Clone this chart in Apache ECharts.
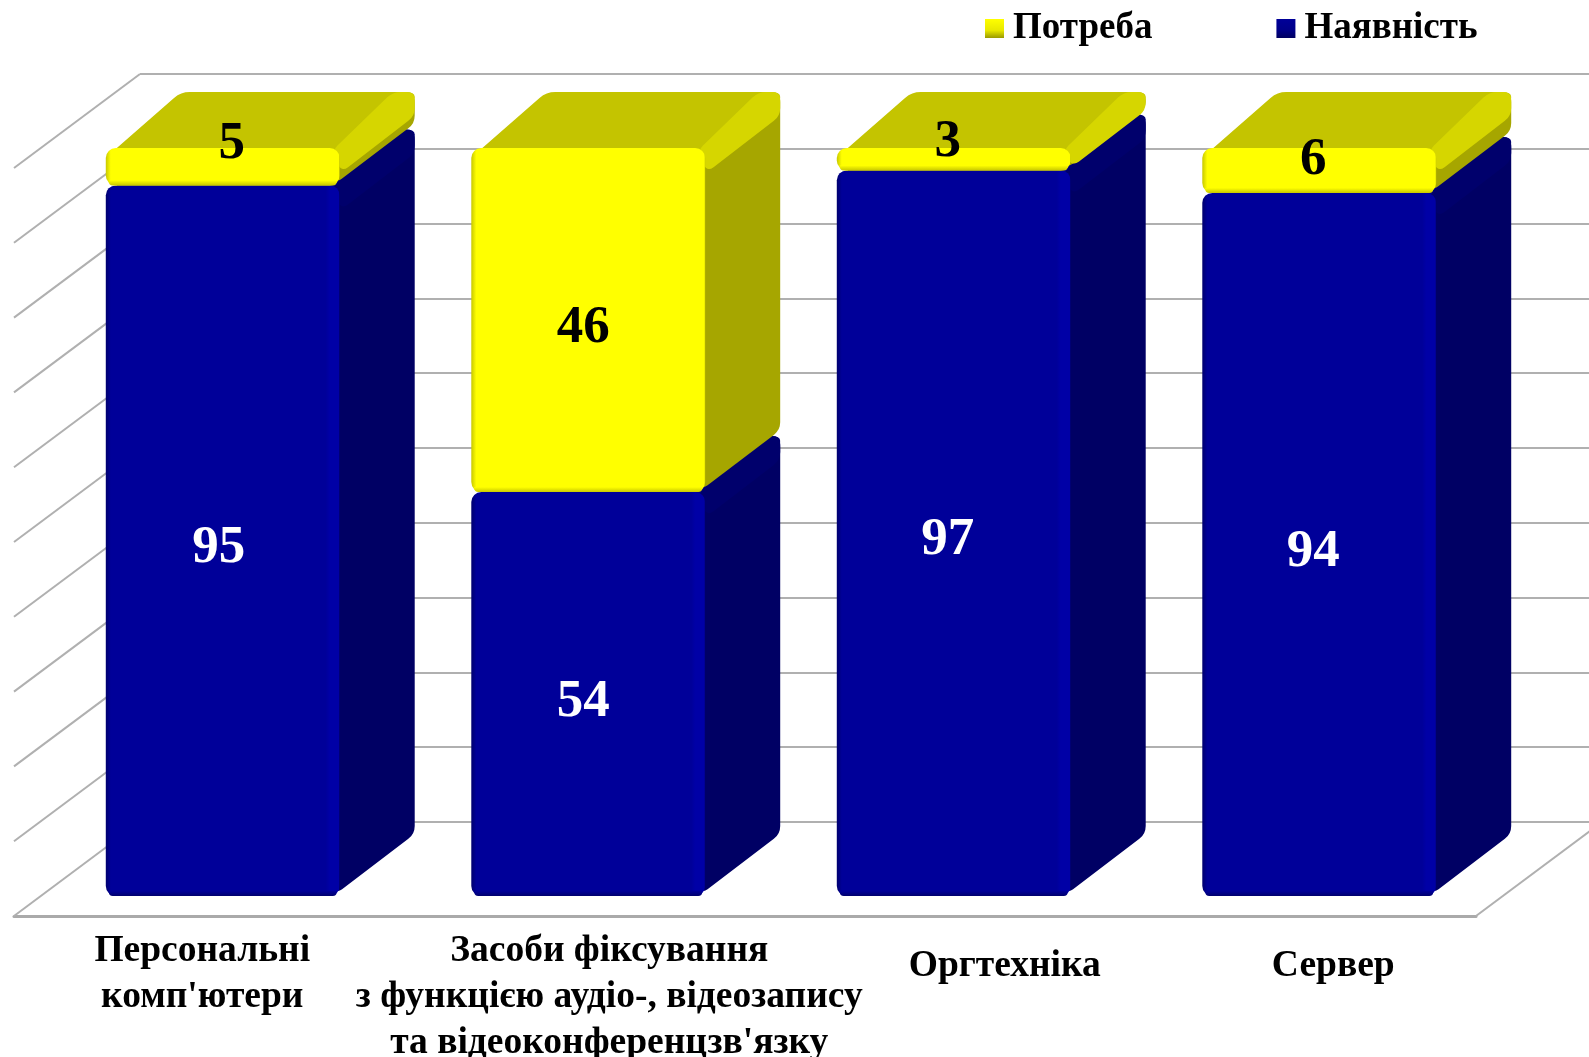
<!DOCTYPE html>
<html><head><meta charset="utf-8">
<style>html,body{margin:0;padding:0;background:#fff}#c{width:1589px;height:1057px}</style>
<script src="https://cdn.jsdelivr.net/npm/echarts@6/dist/echarts.min.js"></script>
</head><body><div id="c"></div>
<script>
const categories = ["Персональні\nкомп'ютери", "Засоби фіксування\nз функцією аудіо-, відеозапису\nта відеоконференцзв'язку", "Оргтехніка", "Сервер"];
const available = [95, 54, 97, 94];
const need = [5, 46, 3, 6];
const yTicks = [0, 10, 20, 30, 40, 50, 60, 70, 80, 90, 100];
const seriesNames = ['Наявність', 'Потреба'];

// styling and projection constants
const FONT = '"Liberation Serif"';
const WALL = [126, -94], FLOOR_GAP = [26, -20], BAR_DEPTH = [75, -56];
const GRID_COLOR = '#b0b0b0';
const BLUE = {front: '#000099', edge: '#00006e', light: '#0000a6', side: '#000064', top: '#000080', rim: '#00006c', text: '#ffffff'};
const YEL = {front: '#ffff00', edge: '#c8c800', light: '#ffff00', side: '#a6a600', top: '#c4c400', rim: '#d6d600', text: '#000000'};
const NUDGE_BLUE = [[-4, 8], [-5, 8], [-6, 7], [-6, 8]];
const NUDGE_YEL = [[9, -22], [-5, 8], [-6, -17], [-6, -10]];
const LABEL_SHIFT = [[11, 0], [94, 0], [154, 15], [80, 15]];

function roundPoly(pts, r) {
  const n = pts.length; let d = '';
  for (let i = 0; i < n; i++) {
    const p = pts[i], a = pts[(i + n - 1) % n], b = pts[(i + 1) % n];
    const la = Math.hypot(a[0] - p[0], a[1] - p[1]), lb = Math.hypot(b[0] - p[0], b[1] - p[1]);
    const ra = Math.min(r, la / 2), rb = Math.min(r, lb / 2);
    const s = [p[0] + (a[0] - p[0]) * ra / la, p[1] + (a[1] - p[1]) * ra / la];
    const e = [p[0] + (b[0] - p[0]) * rb / lb, p[1] + (b[1] - p[1]) * rb / lb];
    d += (i ? 'L' : 'M') + s[0] + ' ' + s[1] + 'Q' + p[0] + ' ' + p[1] + ' ' + e[0] + ' ' + e[1];
  }
  return d + 'Z';
}
const poly = (pts, r, style) => ({type: 'path', shape: {d: roundPoly(pts, r)}, style});
const grad = (x2, y2, stops) => new echarts.graphic.LinearGradient(0, 0, x2, y2, stops.map(s => ({offset: s[0], color: s[1]})));

function boxRenderer(pal, nudge) {
  return function (params, api) {
    const i = api.value(0);
    const a = api.coord([i, api.value(1)]), b = api.coord([i, api.value(2)]);
    const w = api.size([1, 0])[0] * 0.64;
    const x0 = a[0] - w / 2 + FLOOR_GAP[0], x1 = x0 + w;
    const yB = a[1] + FLOOR_GAP[1], yT = b[1] + FLOOR_GAP[1];
    const [dx, dy] = BAR_DEPTH;
    const h = yB - yT, r = Math.min(10, h / 2);
    const rimBottom = Math.min(yT + dy + 24, yB + dy - 4);
    const kids = [
      poly([[x1 - 10, yT + 8], [x1 + dx, yT + dy + 2], [x1 + dx, yB + dy - 6], [x1 - 4, yB - 2]], 8, {fill: pal.side}),
      poly([[x0 + 2, yT + 8], [x0 + dx, yT + dy], [x1 + dx, yT + dy], [x1 + dx, yT + dy + 10], [x1, yT + 10]], 9, {fill: pal.top}),
      poly([[x1 - 8, yT + 3], [x1 + dx - 22, yT + dy], [x1 + dx, yT + dy], [x1 + dx, rimBottom], [x1 + 2, rimBottom - dy]], 8, {fill: pal.rim}),
      {type: 'rect', shape: {x: x0, y: yT, width: w, height: h, r}, style: {
        fill: grad(1, 0, [[0, pal.edge], [5 / w, pal.front], [1 - 14 / w, pal.front], [1 - 10 / w, pal.light], [1 - 1 / w, pal.light], [1, pal.edge]])}},
      {type: 'rect', shape: {x: x0 + 3, y: yB - 5, width: w - 6, height: 5, r: [0, 0, 4, 4]}, style: {
        fill: grad(0, 1, [[0, pal.front], [1, pal.edge]])}},
      {type: 'text', style: {
        text: String(api.value(2) - api.value(1)),
        x: (x0 + x1) / 2 + nudge[i][0], y: (yT + yB) / 2 + nudge[i][1],
        fill: pal.text, font: 'bold 53px ' + FONT, align: 'center', verticalAlign: 'middle'}}
    ];
    return {type: 'group', children: kids};
  };
}

function wallRenderer(params, api) {
  const v = api.value(0);
  const p = api.coord([0, v]);
  const xL = params.coordSys.x, xR = params.coordSys.x + params.coordSys.width;
  const kids = [{type: 'line', shape: {x1: xL, y1: p[1], x2: xL + WALL[0], y2: p[1] + WALL[1]}, style: {stroke: GRID_COLOR, lineWidth: 2}}];
  if (v === yTicks[0]) kids.push({type: 'line', shape: {x1: xR, y1: p[1], x2: xR + WALL[0], y2: p[1] + WALL[1]}, style: {stroke: GRID_COLOR, lineWidth: 2}});
  return {type: 'group', children: kids};
}

const haveData = available.map((v, i) => [i, 0, v]);
const needData = need.map((v, i) => [i, available[i], available[i] + v]);

const chart = echarts.init(document.getElementById('c'), null, {renderer: 'canvas'});
chart.setOption({
  animation: false,
  backgroundColor: '#ffffff',
  textStyle: {fontFamily: FONT},
  legend: {
    top: 5, left: 980, itemWidth: 19, itemHeight: 19, itemGap: 124,
    icon: 'rect',
    data: [
      {name: seriesNames[1], itemStyle: {color: grad(0, 1, [[0, '#ffff00'], [0.6, '#e8e800'], [1, '#9a9a00']])}},
      {name: seriesNames[0], itemStyle: {color: grad(0, 1, [[0, '#000099'], [0.6, '#000088'], [1, '#000060']])}}
    ],
    textStyle: {fontFamily: FONT, fontWeight: 'bold', fontSize: 37, color: '#000', padding: [0, 0, 0, 4]}
  },
  grid: [
    {left: 14, top: 168, width: 1462, height: 748, outerBoundsMode: 'none'},
    {left: 140, top: 74, right: 0, height: 748, outerBoundsMode: 'none'}
  ],
  xAxis: [
    {type: 'category', gridIndex: 0,
     data: categories.map((c, i) => ({value: c, textStyle: {padding: [LABEL_SHIFT[i][1], 0, 0, LABEL_SHIFT[i][0]]}})),
     axisLine: {lineStyle: {color: '#aaaaaa', width: 3}}, axisTick: {show: false},
     axisLabel: {interval: 0, margin: 12, fontFamily: FONT, fontWeight: 'bold', fontSize: 37.5, lineHeight: 46, color: '#000', verticalAlign: 'top'}},
    {type: 'category', gridIndex: 1, show: false, data: categories}
  ],
  yAxis: [
    {type: 'value', gridIndex: 0, min: 0, max: 100, interval: 10, show: false},
    {type: 'value', gridIndex: 1, min: 0, max: 100, interval: 10,
     axisLine: {show: false}, axisTick: {show: false}, axisLabel: {show: false},
     splitLine: {show: true, lineStyle: {color: GRID_COLOR, width: 2}}}
  ],
  series: [
    {type: 'custom', name: 'Стінка', xAxisIndex: 0, yAxisIndex: 0, z: 1, silent: true,
     data: yTicks.map(v => [v]), encode: {y: 0}, renderItem: wallRenderer},
    {type: 'custom', name: seriesNames[0], xAxisIndex: 0, yAxisIndex: 0, z: 2,
     itemStyle: {color: BLUE.front}, data: haveData, encode: {x: 0, y: [1, 2]}, renderItem: boxRenderer(BLUE, NUDGE_BLUE)},
    {type: 'custom', name: seriesNames[1], xAxisIndex: 0, yAxisIndex: 0, z: 3,
     itemStyle: {color: YEL.front}, data: needData, encode: {x: 0, y: [1, 2]}, renderItem: boxRenderer(YEL, NUDGE_YEL)}
  ]
});
</script></body></html>
